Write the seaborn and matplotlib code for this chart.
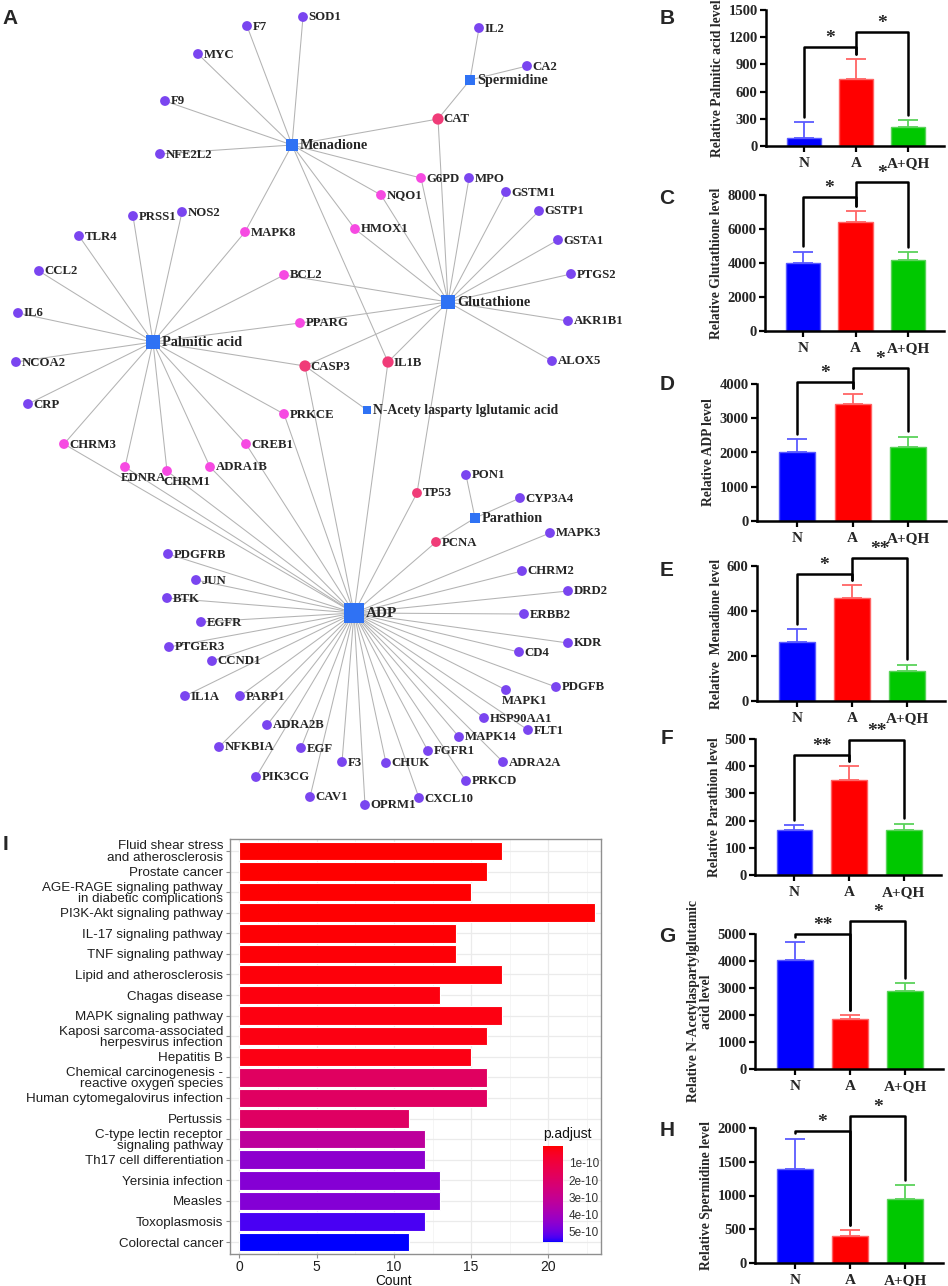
import numpy as np
import pandas as pd
import matplotlib
matplotlib.use('Agg')
import matplotlib.pyplot as plt
import seaborn as sns
from matplotlib.colors import ListedColormap, Normalize
from matplotlib.cm import ScalarMappable
from matplotlib.ticker import MultipleLocator

sns.set_theme(style='white')
plt.rcParams['font.family'] = ['Liberation Serif', 'DejaVu Serif']

W, H = 948, 1286


def to_fig(left, right, top, bottom):
    # pixel box of the original figure -> figure fraction rect
    return [left / W, 1 - bottom / H, (right - left) / W, (bottom - top) / H]


###### panel A: compound - target network
menadione_targets = ['F7', 'SOD1', 'MYC', 'F9', 'NFE2L2', 'CAT', 'G6PD', 'NQO1', 'HMOX1', 'MAPK8', 'IL1B']
spermidine_targets = ['IL2', 'CA2', 'CAT']
glutathione_targets = ['CAT', 'G6PD', 'MPO', 'GSTM1', 'GSTP1', 'GSTA1', 'PTGS2', 'AKR1B1', 'ALOX5', 'NQO1',
                       'HMOX1', 'BCL2', 'PPARG', 'CASP3', 'IL1B', 'TP53']
palmitic_targets = ['TLR4', 'PRSS1', 'NOS2', 'CCL2', 'IL6', 'NCOA2', 'CRP', 'CHRM3', 'EDNRA', 'CHRM1', 'ADRA1B',
                    'CREB1', 'PRKCE', 'CASP3', 'PPARG', 'BCL2', 'MAPK8']
naag_targets = ['CASP3']
parathion_targets = ['PON1', 'CYP3A4', 'PCNA']
adp_targets = ['CHRM3', 'EDNRA', 'CHRM1', 'ADRA1B', 'CREB1', 'PRKCE', 'CASP3', 'IL1B', 'TP53', 'PCNA', 'MAPK3',
               'CHRM2', 'DRD2', 'ERBB2', 'KDR', 'CD4', 'PDGFB', 'MAPK1', 'HSP90AA1', 'FLT1', 'MAPK14', 'ADRA2A',
               'FGFR1', 'PRKCD', 'CHUK', 'CXCL10', 'OPRM1', 'F3', 'CAV1', 'EGF', 'PIK3CG', 'NFKBIA', 'ADRA2B',
               'PARP1', 'IL1A', 'CCND1', 'PTGER3', 'EGFR', 'BTK', 'JUN', 'PDGFRB']
compound_links = {
    'Menadione': menadione_targets,
    'Spermidine': spermidine_targets,
    'Glutathione': glutathione_targets,
    'Palmitic acid': palmitic_targets,
    'N-Acety lasparty lglutamic acid': naag_targets,
    'Parathion': parathion_targets,
    'ADP': adp_targets,
}
hub_genes = ['CAT', 'CASP3', 'IL1B', 'TP53', 'PCNA']
shared_genes = ['G6PD', 'NQO1', 'HMOX1', 'MAPK8', 'BCL2', 'PPARG', 'PRKCE', 'CREB1', 'CHRM3', 'EDNRA',
                'CHRM1', 'ADRA1B']

# node layout (pixel space)
layout = {
    'Menadione': (292, 145), 'Glutathione': (448, 302), 'Palmitic acid': (153, 342), 'ADP': (354, 613),
    'Spermidine': (470, 80), 'N-Acety lasparty lglutamic acid': (367, 410), 'Parathion': (475, 518),
    'F7': (247, 26), 'SOD1': (303, 17), 'MYC': (198, 54), 'F9': (165, 101), 'NFE2L2': (160, 154),
    'CAT': (438, 119), 'G6PD': (421, 178), 'MPO': (469, 178), 'NQO1': (381, 195), 'HMOX1': (355, 229),
    'MAPK8': (245, 232), 'PRSS1': (133, 216), 'NOS2': (182, 212), 'TLR4': (79, 236), 'CCL2': (39, 271),
    'BCL2': (284, 275), 'IL6': (18, 313), 'PPARG': (300, 323), 'IL2': (479, 28), 'CA2': (527, 66),
    'GSTM1': (506, 192), 'GSTP1': (539, 211), 'GSTA1': (558, 240), 'PTGS2': (571, 274), 'AKR1B1': (568, 321),
    'ALOX5': (552, 361), 'NCOA2': (16, 362), 'CASP3': (305, 366), 'IL1B': (388, 362), 'CRP': (28, 404),
    'PRKCE': (284, 414), 'CHRM3': (64, 444), 'CREB1': (246, 444), 'EDNRA': (125, 467), 'CHRM1': (167, 471),
    'ADRA1B': (210, 467), 'TP53': (417, 493), 'PON1': (466, 475), 'CYP3A4': (520, 498), 'PCNA': (436, 542),
    'MAPK3': (550, 533), 'PDGFRB': (168, 554), 'CHRM2': (522, 571), 'JUN': (196, 580), 'DRD2': (568, 591),
    'BTK': (167, 598), 'ERBB2': (524, 614), 'EGFR': (201, 622), 'KDR': (568, 643), 'PTGER3': (169, 647),
    'CD4': (519, 652), 'CCND1': (212, 661), 'PDGFB': (556, 687), 'MAPK1': (506, 690), 'IL1A': (185, 696),
    'PARP1': (240, 696), 'HSP90AA1': (484, 718), 'ADRA2B': (267, 725), 'FLT1': (528, 730), 'MAPK14': (459, 737),
    'NFKBIA': (219, 747), 'EGF': (301, 748), 'FGFR1': (428, 751), 'F3': (342, 762), 'ADRA2A': (503, 762),
    'CHUK': (386, 763), 'PIK3CG': (256, 777), 'PRKCD': (466, 781), 'CAV1': (310, 797), 'CXCL10': (419, 798),
    'OPRM1': (365, 805),
}
labels_below = ['EDNRA', 'CHRM1', 'MAPK1']

###### panels B-H: metabolite levels
groups = ['N', 'A', 'A+QH']
palmitic_mean, palmitic_sd = [85, 738, 206], [177, 220, 76]
glutathione_mean, glutathione_sd = [3990, 6410, 4150], [670, 650, 490]
adp_mean, adp_sd = [2020, 3425, 2175], [370, 285, 290]
menadione_mean, menadione_sd = [262, 458, 135], [58, 56, 26]
parathion_mean, parathion_sd = [165, 350, 166], [17, 49, 22]
naag_mean, naag_sd = [4025, 1850, 2880], [665, 150, 290]
spermidine_mean, spermidine_sd = [1396, 393, 943], [447, 89, 212]

###### panel I: KEGG enrichment
pathways = ['Fluid shear stress\nand atherosclerosis', 'Prostate cancer',
            'AGE-RAGE signaling pathway\nin diabetic complications', 'PI3K-Akt signaling pathway',
            'IL-17 signaling pathway', 'TNF signaling pathway', 'Lipid and atherosclerosis', 'Chagas disease',
            'MAPK signaling pathway', 'Kaposi sarcoma-associated\nherpesvirus infection', 'Hepatitis B',
            'Chemical carcinogenesis -\nreactive oxygen species', 'Human cytomegalovirus infection', 'Pertussis',
            'C-type lectin receptor\nsignaling pathway', 'Th17 cell differentiation', 'Yersinia infection',
            'Measles', 'Toxoplasmosis', 'Colorectal cancer']
counts = [17, 16, 15, 23, 14, 14, 17, 13, 17, 16, 15, 16, 16, 11, 12, 12, 13, 13, 12, 11]
p_adjust = [1.5e-12, 3e-12, 4e-12, 5e-12, 8e-12, 9e-12, 1.2e-11, 1.5e-11, 1.8e-11, 2.0e-11, 2.2e-11,
            1.8e-10, 1.82e-10, 1.85e-10, 3.25e-10, 4.45e-10, 4.6e-10, 4.62e-10, 5.3e-10, 5.58e-10]


def lab_gradient(c1, c2, n=256):
    # red -> blue ramp interpolated in CIELAB like ggplot does
    M = np.array([[0.4124, 0.3576, 0.1805], [0.2126, 0.7152, 0.0722], [0.0193, 0.1192, 0.9505]])
    white = np.array([0.95047, 1.0, 1.08883])
    eps, kap = 216 / 24389, 24389 / 27

    def to_lab(rgb):
        rgb = np.asarray(rgb, float)
        lin = np.where(rgb <= 0.04045, rgb / 12.92, ((rgb + 0.055) / 1.055) ** 2.4)
        xyz = M @ lin / white
        f = np.where(xyz > eps, np.cbrt(xyz), (kap * xyz + 16) / 116)
        return np.array([116 * f[1] - 16, 500 * (f[0] - f[1]), 200 * (f[1] - f[2])])

    def to_rgb(lab):
        fy = (lab[0] + 16) / 116
        f = np.array([fy + lab[1] / 500, fy, fy - lab[2] / 200])
        xyz = np.where(f ** 3 > eps, f ** 3, (116 * f - 16) / kap) * white
        lin = np.clip(np.linalg.solve(M, xyz), 0, 1)
        return np.where(lin <= 0.0031308, 12.92 * lin, 1.055 * lin ** (1 / 2.4) - 0.055)

    a, b = to_lab(c1), to_lab(c2)
    cols = [np.clip(to_rgb(a + (b - a) * t), 0, 1) for t in np.linspace(0, 1, n)]
    return ListedColormap(cols)


fig = plt.figure(figsize=(9.48, 12.86), dpi=100)

# ---- network
net = fig.add_axes([0, 0, 1, 1], zorder=0)
net.axis('off')
net.patch.set_visible(False)

edges = [(c, g) for c, gs in compound_links.items() for g in gs]
for c, g in edges:
    (x0, y0), (x1, y1) = layout[c], layout[g]
    net.plot([x0, x1], [y0, y1], color='#b3b3b3', lw=0.75, zorder=1)

deg = pd.Series([g for _, g in edges] + [c for c, _ in edges]).value_counts()
genes = sorted(set(g for _, g in edges))
gene_df = pd.DataFrame({
    'name': genes,
    'x': [layout[g][0] for g in genes],
    'y': [layout[g][1] for g in genes],
    'kind': ['hub' if g in hub_genes else 'shared' if g in shared_genes else 'single' for g in genes],
    'deg': [min(deg[g], 3) for g in genes],
})
sns.scatterplot(data=gene_df, x='x', y='y', hue='kind', size='deg',
                palette={'hub': '#f03c78', 'shared': '#f64ae2', 'single': '#7a45f0'},
                sizes={1: 50, 2: 50, 3: 66}, linewidth=0, legend=False, ax=net, zorder=3)

comp_df = pd.DataFrame({
    'name': list(compound_links),
    'x': [layout[c][0] for c in compound_links],
    'y': [layout[c][1] for c in compound_links],
    'deg': [deg[c] for c in compound_links],
})
sns.scatterplot(data=comp_df, x='x', y='y', size='deg', sizes=(38, 200), size_norm=(1, 41), marker='s',
                color='#2f72f4', linewidth=0, legend=False, ax=net, zorder=3)
net.set_xlim(0, W)
net.set_ylim(H, 0)
net.set_xlabel('')
net.set_ylabel('')

for g, x, y in zip(gene_df['name'], gene_df['x'], gene_df['y']):
    if g in labels_below:
        net.text(x - 4, y + 11, g, fontsize=9.2, fontweight='bold', ha='left', va='center', zorder=4)
    else:
        net.text(x + 5.5, y + 0.5, g, fontsize=9.2, fontweight='bold', ha='left', va='center', zorder=4)
for c, x, y, d in zip(comp_df['name'], comp_df['x'], comp_df['y'], comp_df['deg']):
    s = 38 + (200 - 38) * (d - 1) / 40
    half = np.sqrt(s) * 1.389 / 2
    fs = 11 if c == 'ADP' else (9.8 if c.startswith('N-Acety') else 10.3)
    net.text(x + half + 2, y + 0.5, c, fontsize=fs, fontweight='bold', ha='left', va='center', zorder=4)

# ---- bar panels
bar_colors = ['#0000ff', '#ff0000', '#00c800']
edge_colors = ['#5a5aff', '#ff6464', '#5ad25a']


def draw_bar(box, means, sds, ylabel, ymax, step, brackets, stars):
    ax = fig.add_axes(to_fig(*box))
    sns.barplot(x=groups, y=means, hue=groups, palette=bar_colors, saturation=1, width=0.65,
                legend=False, ax=ax)
    for p, ec in zip(ax.patches, edge_colors):
        p.set_edgecolor(ec)
        p.set_linewidth(1)
    for i in range(3):
        ax.errorbar(i, means[i], yerr=[[0], [sds[i]]], color=edge_colors[i], capsize=7, lw=1.3,
                    capthick=1.3, zorder=1)
    pad = 0.04 * ymax
    legs = [m + s + pad for m, s in zip(means, sds)]
    h1, h2 = brackets
    ax.plot([0, 0, 1, 1], [legs[0], h1, h1, legs[1]], color='black', lw=1.8, clip_on=False)
    ax.plot([1, 1, 2, 2], [legs[1], h2, h2, legs[2]], color='black', lw=1.8, clip_on=False)
    ax.text(0.5, h1, stars[0], ha='center', va='bottom', fontsize=14, fontweight='bold')
    ax.text(1.5, h2, stars[1], ha='center', va='bottom', fontsize=14, fontweight='bold')
    ax.set_ylim(0, ymax)
    ax.set_xlim(-0.72, 2.68)
    ax.yaxis.set_major_locator(MultipleLocator(step))
    ax.set_ylabel(ylabel, fontsize=9.8, fontweight='bold', linespacing=1.0, labelpad=3)
    ax.set_xlabel('')
    sns.despine(ax=ax)
    for sp in ['left', 'bottom']:
        ax.spines[sp].set_linewidth(1.8)
        ax.spines[sp].set_color('black')
    ax.tick_params(axis='both', which='major', direction='out', length=4, width=1.6, color='black',
                   left=True, bottom=True, pad=2)
    ax.tick_params(axis='y', labelsize=10.5)
    ax.tick_params(axis='x', labelsize=11, pad=4)
    plt.setp(ax.get_yticklabels(), fontweight='bold')
    plt.setp(ax.get_xticklabels(), fontweight='bold')
    return ax


draw_bar((766, 944, 10, 146), palmitic_mean, palmitic_sd, 'Relative Palmitic acid level', 1500, 300,
         (1090, 1255), ('*', '*'))
draw_bar((765, 944, 195, 331), glutathione_mean, glutathione_sd, 'Relative Glutathione level', 8000, 2000,
         (7900, 8750), ('*', '*'))
draw_bar((757, 946, 384, 521), adp_mean, adp_sd, 'Relative ADP level', 4000, 1000,
         (4070, 4480), ('*', '*'))
draw_bar((757, 945, 566, 701), menadione_mean, menadione_sd, 'Relative  Menadione level', 600, 200,
         (563, 634), ('*', '**'))
draw_bar((755, 941, 739, 875), parathion_mean, parathion_sd, 'Relative Parathion level', 500, 100,
         (443, 497), ('**', '**'))
draw_bar((755, 943, 934, 1069), naag_mean, naag_sd, 'Relative N-Acetylaspartylglutamic\nacid level', 5000, 1000,
         (5000, 5480), ('**', '*'))
draw_bar((755, 943, 1128, 1263), spermidine_mean, spermidine_sd, 'Relative Spermidine level', 2000, 500,
         (1956, 2177), ('*', '*'))

# ---- panel I
cmap = lab_gradient((1, 0, 0), (0, 0, 1))
pnorm = Normalize(min(p_adjust), max(p_adjust))
axi = fig.add_axes(to_fig(230, 601, 839, 1254))
sns.barplot(x=counts, y=pathways, hue=p_adjust, palette=cmap, hue_norm=pnorm, orient='h', width=0.9,
            dodge=False, saturation=1, legend=False, edgecolor='white', linewidth=0.8, ax=axi)
axi.set_xlim(-0.6, 23.4)
axi.set_ylim(19.58, -0.58)
axi.xaxis.set_major_locator(MultipleLocator(5))
axi.xaxis.set_minor_locator(MultipleLocator(2.5))
axi.set_axisbelow(True)
axi.grid(which='major', color='#ebebeb', lw=0.9)
axi.grid(which='minor', axis='x', color='#f4f4f4', lw=0.6)
for sp in axi.spines.values():
    sp.set_visible(True)
    sp.set_color('#8f8f8f')
    sp.set_linewidth(1)
axi.tick_params(axis='both', which='major', length=3, width=0.8, color='#8f8f8f', left=True, bottom=True,
                labelsize=9.6, labelcolor='#1e1e1e', pad=2)
axi.tick_params(axis='x', labelsize=10, pad=1)
axi.tick_params(axis='x', which='minor', length=0)
for t in axi.get_yticklabels() + axi.get_xticklabels():
    t.set_family('Liberation Sans')
plt.setp(axi.get_yticklabels(), linespacing=0.92)
axi.set_ylabel('')
axi.set_xlabel('Count', fontsize=9.8, family='Liberation Sans', color='#111111')
axi.xaxis.set_label_coords(0.44, -0.047)

cax = fig.add_axes(to_fig(543, 563, 1146, 1242))
cb = fig.colorbar(ScalarMappable(norm=pnorm, cmap=cmap), cax=cax)
cax.invert_yaxis()
cb.outline.set_visible(False)
cb.set_ticks([1e-10, 2e-10, 3e-10, 4e-10, 5e-10])
cb.set_ticklabels(['1e-10', '2e-10', '3e-10', '4e-10', '5e-10'])
cax.tick_params(axis='y', direction='in', length=3, width=0.8, color='white', left=True, right=True,
                labelsize=8.5, labelcolor='#333333', pad=4)
for t in cax.get_yticklabels():
    t.set_family('Liberation Sans')
fig.text(543 / W, 1 - 1134 / H, 'p.adjust', fontsize=10, family='Liberation Sans', color='#111111',
         ha='left', va='center')

# ---- panel letters
for letter, (x, y) in zip('ABCDEFGHI', [(10, 18), (667, 18), (667, 198), (667, 385), (667, 571), (667, 739),
                                         (667, 937), (667, 1130), (5, 845)]):
    fig.text(x / W, 1 - y / H, letter, fontsize=15, fontweight='bold', family='Liberation Sans',
             ha='center', va='center')

fig.savefig('out.png', dpi=100)
